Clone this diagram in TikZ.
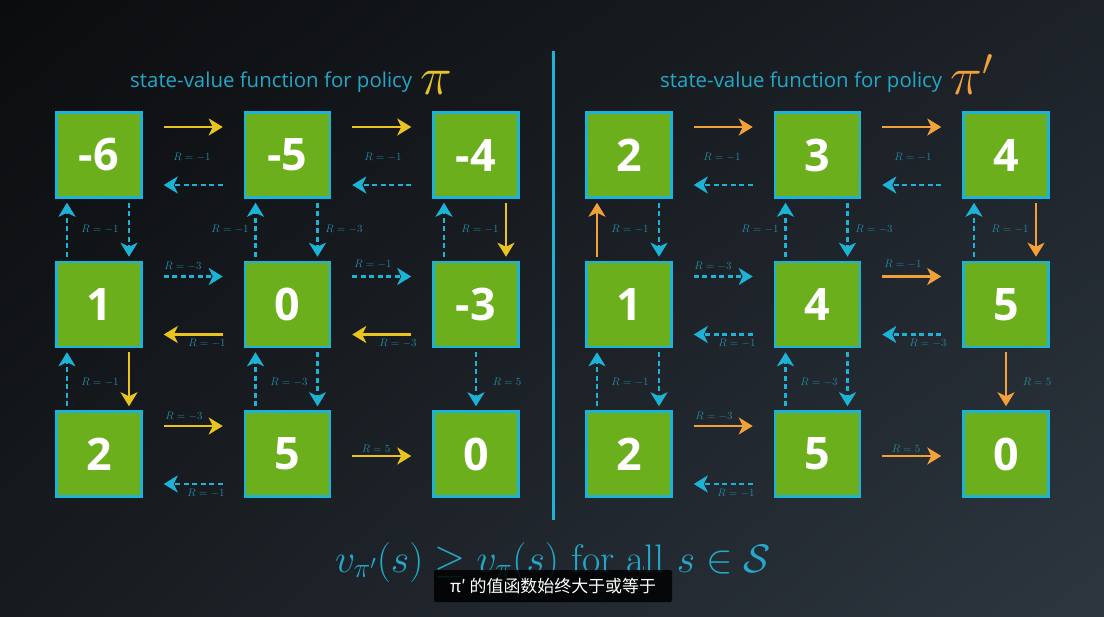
\RequirePackage{fix-cm}
\documentclass[tikz,border=0pt]{standalone}
\usepackage{fontspec}
\usetikzlibrary{arrows.meta,positioning,shadings}
\newfontfamily\opensans{Open Sans}
\newfontfamily\cjk{Noto Sans CJK SC}
\definecolor{cell}{HTML}{6BAF1C}
\definecolor{edge}{HTML}{1DB3D6}
\definecolor{title}{HTML}{22A8C8}
\definecolor{rtxt}{HTML}{2487A0}
\definecolor{pyel}{HTML}{E9C41E}
\definecolor{porg}{HTML}{F2A03A}
\definecolor{bgtl}{HTML}{0B0C0E}
\definecolor{bgtr}{HTML}{1C2228}
\definecolor{bgbl}{HTML}{171B1F}
\definecolor{bgbr}{HTML}{2D3640}

\begin{document}
\begin{tikzpicture}[x=1bp,y=-1bp,
    state/.style={draw=edge,fill=cell,line width=2.5bp,minimum size=85bp,inner sep=0,
        text=white,font=\opensans\bfseries\fontsize{45}{45}\selectfont},
    move/.style={line width=2.5bp,-{Stealth[length=14bp,width=17bp,inset=4bp]}},
    pa/.style={move,draw=pyel},
    pb/.style={move,draw=porg},
    alt/.style={move,draw=edge,dash pattern=on 5bp off 3.5bp},
    rlab/.style={text=rtxt,inner sep=0,font=\fontsize{11}{11}\selectfont},
    heading/.style={text=title,anchor=base west,inner sep=0,font=\opensans\fontsize{20.5}{20.5}\selectfont}]
    \shade[upper left=bgtl,upper right=bgtr,lower left=bgbl,lower right=bgbr] (0,0) rectangle (1104,617);

    % the two grids of state values
    \foreach \r/\c/\v in {1/1/-6,1/2/-5,1/3/-4,2/1/1,2/2/0,2/3/-3,3/1/2,3/2/5,3/3/0}{
        \node[state] (old-\r-\c) at ({99+(\c-1)*188.5},{155+(\r-1)*149.5}) {\v};
    }
    \foreach \r/\c/\v in {1/1/2,1/2/3,1/3/4,2/1/1,2/2/4,2/3/5,3/1/2,3/2/5,3/3/0}{
        \node[state] (new-\r-\c) at ({629+(\c-1)*188.5},{155+(\r-1)*149.5}) {\v};
    }

    \node[heading] (ttl-old) at (130,88) {state-value function for policy};
    \node[anchor=base west,inner sep=0,text=pyel,font=\fontsize{54}{54}\selectfont] (pi-old) at (420,95) {$\pi$};
    \node[heading] (ttl-new) at (660,88) {state-value function for policy};
    \node[anchor=base west,inner sep=0,text=porg,font=\fontsize{54}{54}\selectfont] (pi-new) at (950,95) {$\pi'$};

    \draw[edge,line width=3bp] (553,51) -- (553,520);

    % moves to the right (upper lane)
    \foreach \a/\b/\s in {old-1-1/old-1-2/pa,old-1-2/old-1-3/pa,old-2-1/old-2-2/alt,old-2-2/old-2-3/alt,old-3-1/old-3-2/pa,
        new-1-1/new-1-2/pb,new-1-2/new-1-3/pb,new-2-1/new-2-2/alt,new-2-2/new-2-3/pb,new-3-1/new-3-2/pb}{
        \draw[\s] ([xshift=21bp,yshift=28bp]\a.east) -- ([xshift=-21bp,yshift=28bp]\b.west);
    }
    % moves to the left (lower lane)
    \foreach \a/\b/\s in {old-1-2/old-1-1/alt,old-1-3/old-1-2/alt,old-2-2/old-2-1/pa,old-2-3/old-2-2/pa,old-3-2/old-3-1/alt,
        new-1-2/new-1-1/alt,new-1-3/new-1-2/alt,new-2-2/new-2-1/alt,new-2-3/new-2-2/alt,new-3-2/new-3-1/alt}{
        \draw[\s] ([xshift=-21bp,yshift=-30bp]\a.west) -- ([xshift=21bp,yshift=-30bp]\b.east);
    }
    % moves up (left lane)
    \foreach \a/\b/\s in {old-2-1/old-1-1/alt,old-2-2/old-1-2/alt,old-2-3/old-1-3/alt,old-3-1/old-2-1/alt,old-3-2/old-2-2/alt,
        new-2-1/new-1-1/pb,new-2-2/new-1-2/alt,new-2-3/new-1-3/alt,new-3-1/new-2-1/alt,new-3-2/new-2-2/alt}{
        \draw[\s] ([xshift=-32bp,yshift=4bp]\a.north) -- ([xshift=-32bp,yshift=-4bp]\b.south);
    }
    % moves down (right lane)
    \foreach \a/\b/\s in {old-1-1/old-2-1/alt,old-1-2/old-2-2/alt,old-1-3/old-2-3/pa,old-2-1/old-3-1/pa,old-2-2/old-3-2/alt,
        new-1-1/new-2-1/alt,new-1-2/new-2-2/alt,new-1-3/new-2-3/pb,new-2-1/new-3-1/alt,new-2-2/new-3-2/alt}{
        \draw[\s] ([xshift=30bp,yshift=-4bp]\a.south) -- ([xshift=30bp,yshift=4bp]\b.north);
    }
    % single moves into the terminal state
    \foreach \p/\s/\t in {old/pa/alt,new/pb/pb}{
        \draw[\s] ([xshift=21bp,yshift=-2bp]\p-3-2.east) -- ([xshift=-21bp,yshift=-2bp]\p-3-3.west);
        \draw[\t] ([yshift=-4bp]\p-2-3.south) -- ([yshift=4bp]\p-3-3.north);
    }

    % rewards, same places in both grids
    \foreach \p/\dx in {old/0,new/530}{
        \foreach \x/\y/\t [count=\k] in {192/157/-1,383/157/-1,100/229/-1,230/229/-1,344/229/-3,480/229/-1,
            183/266/-3,373/264/-1,207/343/-1,398/343/-3,100/382/-1,289/382/-3,507/382/5,
            184/416/-3,206/493/-1,376/449/5}{
            \node[rlab] (\p-r\k) at (\x+\dx,\y) {$R=\t$};
        }
    }

    \node[anchor=base,text=title,font=\fontsize{40}{40}\selectfont] (ineq) at (553,572)
        {$v_{\pi'}(s) \geq v_\pi(s)$ for all $s \in \mathcal{S}$};
    \node[fill=black,fill opacity=0.85,text opacity=1,text=white,rounded corners=2bp,
        minimum width=238bp,minimum height=32bp,inner sep=0,font=\cjk\fontsize{17}{17}\selectfont]
        (sub) at (553,586) {π′ 的值函数始终大于或等于};
\end{tikzpicture}
\end{document}
